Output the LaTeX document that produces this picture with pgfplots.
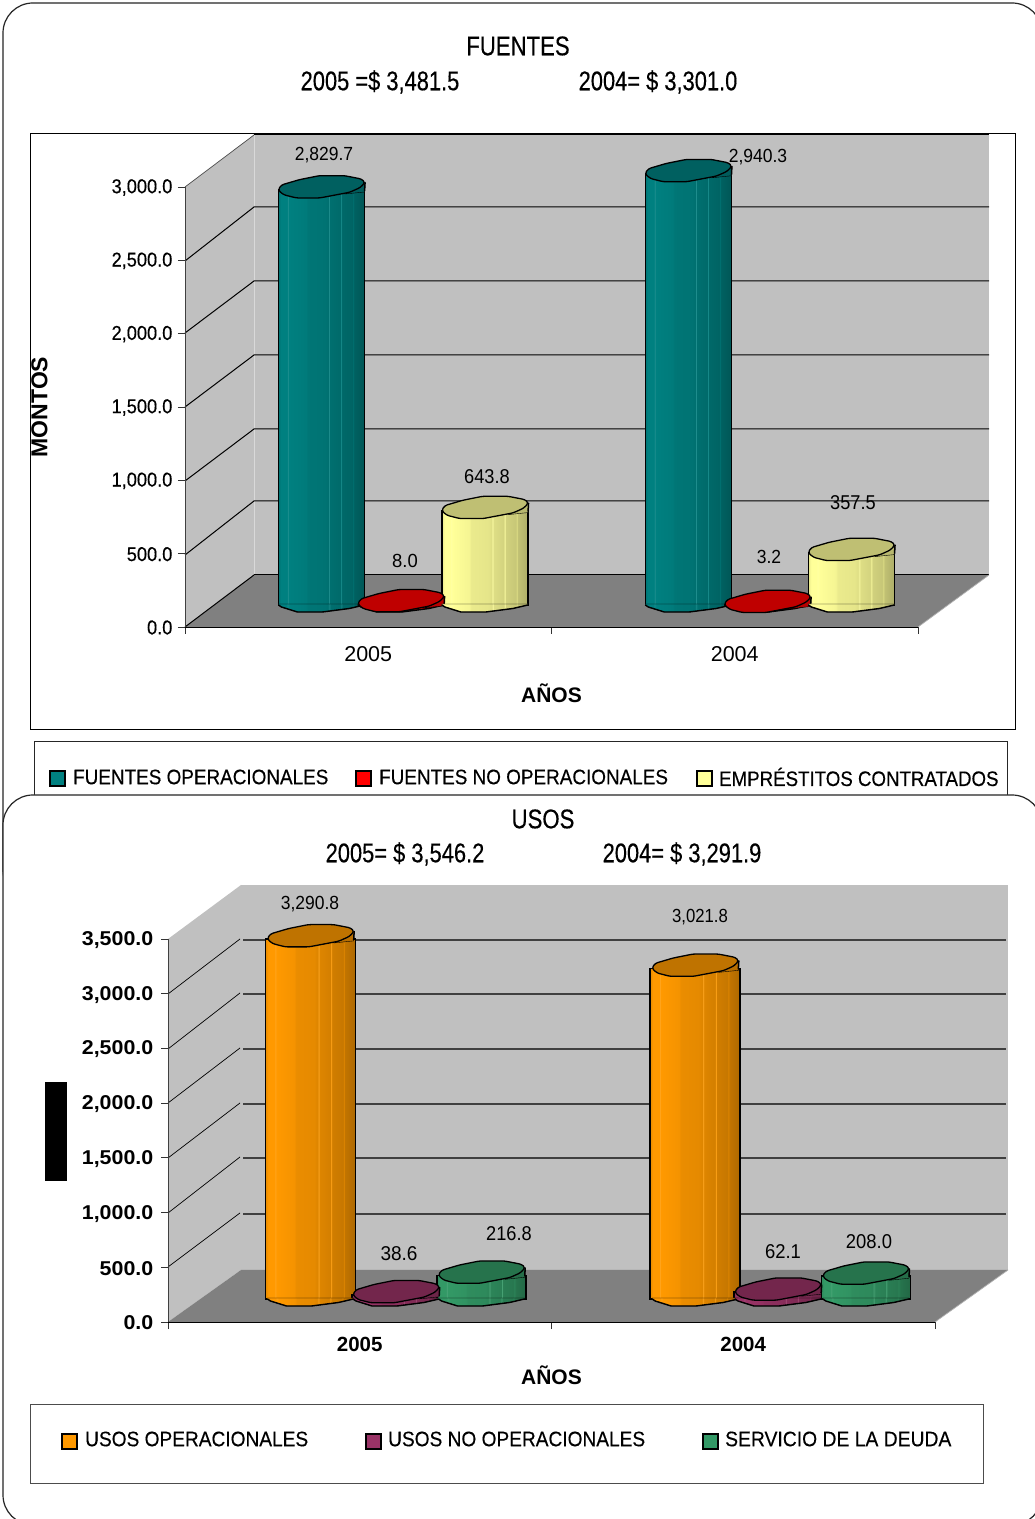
\documentclass[border=0pt]{standalone}
\usepackage{fontspec}
\setmainfont{Liberation Sans}
\newfontfamily\heavy[FakeBold=0.35]{Liberation Sans}
\usepackage{pgfplots}
\usepackage{pgfplotstable}
\pgfplotsset{compat=1.18}

\newcommand{\fs}[1]{\fontsize{#1}{#1}\selectfont}

\definecolor{wallgray}{HTML}{C0C0C0}
\definecolor{floorgray}{HTML}{808080}
\definecolor{cOper}{HTML}{008080}
\definecolor{cNoOper}{HTML}{FF0000}
\definecolor{cEmpr}{HTML}{FFFF99}
\definecolor{cUsos}{HTML}{FF9900}
\definecolor{cUsosNo}{HTML}{993366}
\definecolor{cDeuda}{HTML}{339966}

% Side shading of a cylinder, plus the cap marks that close it at both ends.
% #1 name, #2 colour, #3 horizontal scale of the caps
\newcommand{\defcyl}[3]{%
  \pgfdeclarehorizontalshading{body#1}{100bp}{%
    color(0bp)=(#2!90!black); color(25bp)=(#2!90!black);
    color(26.5bp)=(#2); color(30bp)=(#2);
    color(30.5bp)=(#2!88!white); color(31bp)=(#2);
    color(41bp)=(#2!96!black); color(42bp)=(#2!92!black);
    color(52bp)=(#2!90!black); color(54bp)=(#2!87!black);
    color(54.5bp)=(#2!87!white); color(55bp)=(#2!87!black);
    color(61bp)=(#2!83!black);
    color(61.5bp)=(#2!90!white); color(62bp)=(#2!82!black);
    color(68bp)=(#2!78!black);
    color(68.5bp)=(#2!88!black); color(69bp)=(#2!76!black);
    color(75bp)=(#2!68!black); color(100bp)=(#2!68!black)}%
  \pgfdeclareplotmark{top#1}{%
    \path[xscale=#3,fill=#2!72!black] (24pt,-4pt) -- (43.7pt,7.7pt) -- (43.2pt,-2pt) -- cycle;
    \draw[xscale=#3,line width=1.5pt,black] (43.2pt,-1pt) -- (43.7pt,7.7pt);
    \draw[xscale=#3,line width=1.3pt,black,fill=#2!75!black,line join=round,rounded corners=2.5pt]
      (-43.3pt,0pt) -- (-40pt,5pt) -- (-22pt,10.3pt) -- (-2pt,14.3pt) -- (23pt,14.3pt)
      -- (40pt,11pt) -- (43.7pt,7.7pt) -- (39pt,2.5pt) -- (28.3pt,-2.3pt) -- (-1.7pt,-8pt) -- (-25pt,-8pt)
      -- (-38pt,-4.7pt) -- cycle;}%
  \pgfdeclareplotmark{base#1}{%
    \path[xscale=#3,shade,shading=body#1,shading angle=0]
      (-43pt,1pt) -- (-43pt,0pt) -- (-40pt,-2pt) -- (-24pt,-7pt) -- (1pt,-7pt) -- (28pt,-3.5pt)
      -- (43pt,0pt) -- (43pt,1pt) -- cycle;
    \draw[xscale=#3,line width=1.4pt,black,line join=round]
      (-43pt,0pt) -- (-40pt,-2pt) -- (-24pt,-7pt) -- (1pt,-7pt) -- (28pt,-3.5pt) -- (43pt,0pt);}%
}
\defcyl{Oper}{cOper}{1}
\defcyl{NoOper}{cNoOper}{0.96}
\defcyl{Empr}{cEmpr}{1}
\defcyl{Usos}{cUsos}{1.04}
\defcyl{UsosNo}{cUsosNo}{1.03}
\defcyl{Deuda}{cDeuda}{1.03}

% One series of cylinders: each shaded side is its own plot, so that the
% shading spans one bar; then lower caps and upper caps.
% #1 name, #2 table, #3 width of the side
\newcommand{\cylinders}[3]{%
  \addplot[ybar,bar shift=0pt,bar width=#3,draw=black,line width=1.5pt,
           shade,shading=body#1,shading angle=0,
           skip coords between index={1}{2}] table[x=x,y=monto]{#2};
  \addplot[ybar,bar shift=0pt,bar width=#3,draw=black,line width=1.5pt,
           shade,shading=body#1,shading angle=0,
           skip coords between index={0}{1}] table[x=x,y=monto]{#2};
  \addplot[only marks,mark=base#1] table[x=x,y expr=0]{#2};
  \addplot[only marks,mark=top#1] table[x=x,y=monto]{#2};
}

\pgfplotstableread{
x monto
0.778 2829.7
1.779 2940.3
}\fuentesOper
\pgfplotstableread{
x monto
0.995 8.0
1.995 3.2
}\fuentesNoOper
\pgfplotstableread{
x monto
1.224 643.8
2.224 357.5
}\emprestitos
\pgfplotstableread{
x monto
0.777 3290.8
1.780 3021.8
}\usosOper
\pgfplotstableread{
x monto
1.000 38.6
1.996 62.1
}\usosNoOper
\pgfplotstableread{
x monto
1.223 216.8
2.225 208.0
}\servicioDeuda

\tikzset{
  px/.style={x=1pt,y=-1pt,yshift=1519pt},
  lab/.style={inner sep=0pt,text=black},
  swatch/.style={draw=black,line width=1.3pt},
}

\pgfplotsset{
  frontaxis/.style={
    scale only axis,clip=false,
    axis x line=bottom,axis y line=left,
    axis line style={-,line width=0.9pt},
    x axis line style={black},
    y axis line style={black!75},
    tick align=outside,
    major tick length=7pt,
    tick style={black!80,line width=0.8pt},
    xmin=0,xmax=2,ymin=0,
    xtick={0,1,2},xticklabels={},
    extra x ticks={0.5,1.5},extra x tick labels={2005,2004},
    extra x tick style={tick style={draw=none}},
    /pgf/number format/fixed,/pgf/number format/fixed zerofill,
    /pgf/number format/precision=1,/pgf/number format/1000 sep={,},
    /pgf/number format/assume math mode=true,
    yticklabel style={inner sep=0pt},
  },
  cylaxis/.style={
    scale only axis,clip=false,hide axis,
    xmin=0.5,xmax=2.5,ymin=0,
  },
}

\begin{document}
\begin{tikzpicture}
\useasboundingbox (0pt,0pt) rectangle (1035pt,1519pt);
\fill[white] (0pt,0pt) rectangle (1035pt,1519pt);

% ---------- upper panel: frame, box, walls ----------
\begin{scope}[px]
  \draw[line width=1.2pt,black!85,rounded corners=30pt] (3,3) rectangle (1042,900);
  \node[lab,font=\heavy\fs{27},xscale=0.82] at (518,46) {FUENTES};
  \node[lab,font=\heavy\fs{27},xscale=0.81] at (380,82) {2005 =\$ 3,481.5};
  \node[lab,font=\heavy\fs{27},xscale=0.81] at (658,82) {2004= \$ 3,301.0};
  \draw[line width=0.9pt,black] (30,133) rectangle (1015,729);
  \fill[wallgray] (254,135) rectangle (989,575);
  \fill[wallgray] (185,187) -- (254,135) -- (254,575) -- (185,627) -- cycle;
  \fill[floorgray] (185,627) -- (254,575) -- (989,575) -- (918,627) -- cycle;
  \draw[black!15,line width=0.6pt] (254,135) -- (254,575);
  \draw[black!70,line width=0.7pt] (185,187) -- (254,135);
  \foreach \f/\b in {261/207,333/281,407/355,481/429,555/501}{
    \draw[black,line width=1pt] (185,\f) -- (254,\b) -- (989,\b);
  }
  \draw[black,line width=1pt] (254,575) -- (989,575);
  \draw[black,line width=1pt] (185,627) -- (254,575);
  \draw[white!70!black,line width=0.7pt] (918,627) -- (989,575);
  \draw[black,line width=0.7pt] (254,134.5) -- (989,134.5);
\end{scope}

\begin{axis}[frontaxis,at={(185pt,892pt)},anchor=south west,
    width=733pt,height=440pt,ymax=3000,ytick={0,500,...,3000},
    tick label style={font=\heavy\fs{20}},
    yticklabel style={xscale=0.91,xshift=-6pt,yshift=-0.5pt},
    xticklabel style={font=\fs{21.5},yshift=-9pt},
    xlabel={AÑOS},
    xlabel style={font=\bfseries\fs{21},at={(axis description cs:0.5,-0.1500)},anchor=center,inner sep=0pt},
    ylabel={MONTOS},
    ylabel style={font=\bfseries\fs{23},at={(axis description cs:-0.1985,0.5)},anchor=center,rotate=0,inner sep=0pt},
  ]
\end{axis}

\begin{axis}[cylaxis,at={(219.5pt,914pt)},anchor=south west,width=733pt,height=440pt,ymax=3000]
  \cylinders{Oper}{\fuentesOper}{86pt}
  \cylinders{NoOper}{\fuentesNoOper}{83pt}
  \cylinders{Empr}{\emprestitos}{86pt}
\end{axis}

\begin{scope}[px]
  \node[lab,font=\fs{19},xscale=0.92] at (324,155) {2,829.7};
  \node[lab,font=\fs{19},xscale=0.92] at (758,157) {2,940.3};
  \node[lab,font=\fs{20},xscale=0.91] at (487,477) {643.8};
  \node[lab,font=\fs{19},xscale=0.97] at (405,561) {8.0};
  \node[lab,font=\fs{19},xscale=0.92] at (769,557) {3.2};
  \node[lab,font=\fs{20},xscale=0.91] at (853,503) {357.5};
  % key of the upper panel
  \draw[line width=0.9pt,black!85] (34,800) -- (34,741) -- (1007,741) -- (1007,800);
  \fill[cOper,swatch] (50,771) rectangle (65,786);
  \fill[cNoOper,swatch] (356,771) rectangle (371,786);
  \fill[cEmpr,swatch] (697,771) rectangle (712,786);
  \node[lab,anchor=west,font=\heavy\fs{21},xscale=0.90] at (73,777) {FUENTES OPERACIONALES};
  \node[lab,anchor=west,font=\heavy\fs{21},xscale=0.90] at (379,777) {FUENTES NO OPERACIONALES};
  \node[lab,anchor=west,font=\heavy\fs{21},xscale=0.89] at (719,777) {EMPRÉSTITOS CONTRATADOS};

  % ---------- lower panel: frame, walls ----------
  \draw[line width=1.2pt,black!85,fill=white,rounded corners=30pt] (3,795) rectangle (1042,1525);
  \node[lab,font=\heavy\fs{27},xscale=0.82] at (543,819) {USOS};
  \node[lab,font=\heavy\fs{27},xscale=0.81] at (405,854) {2005= \$ 3,546.2};
  \node[lab,font=\heavy\fs{27},xscale=0.81] at (682,854) {2004= \$ 3,291.9};
  \fill[wallgray] (241,885) rectangle (1008,1270);
  \fill[wallgray] (168,939) -- (241,885) -- (241,1270) -- (168,1322) -- cycle;
  \fill[floorgray] (168,1322) -- (241,1270) -- (1008,1270) -- (935,1322) -- cycle;
  \foreach \f/\b in {994/940,1049/994,1103/1049,1158/1104,1213/1158,1267/1214}{
    \draw[black,line width=0.7pt] (168,\f) -- (240,\b-1);
    \draw[black!75,line width=1.1pt] (243,\b) -- (1006,\b);
  }
  \draw[white!70!black,line width=0.7pt] (935,1322) -- (1008,1270);
  \fill[black] (45,1082) rectangle (67,1181);
\end{scope}

\begin{axis}[frontaxis,at={(168pt,197pt)},anchor=south west,
    width=767pt,height=383pt,ymax=3500,ytick={0,500,...,3500},
    tick label style={font=\bfseries\fs{20}},
    yticklabel style={xscale=1.07,xshift=-7pt,yshift=-1pt},
    xticklabel style={font=\bfseries\fs{20.5},yshift=-5pt},
    xlabel={AÑOS},
    xlabel style={font=\bfseries\fs{21},at={(axis description cs:0.5,-0.1385)},anchor=center,inner sep=0pt},
  ]
\end{axis}

\begin{axis}[cylaxis,at={(204.25pt,220pt)},anchor=south west,width=767pt,height=383pt,ymax=3500]
  \cylinders{Usos}{\usosOper}{90pt}
  \cylinders{UsosNo}{\usosNoOper}{88pt}
  \cylinders{Deuda}{\servicioDeuda}{89pt}
\end{axis}

\begin{scope}[px]
  \node[lab,font=\fs{19},xscale=0.92] at (310,904) {3,290.8};
  \node[lab,font=\fs{19},xscale=0.88] at (700,917) {3,021.8};
  \node[lab,font=\fs{20},xscale=0.95] at (399,1254) {38.6};
  \node[lab,font=\fs{20},xscale=0.91] at (509,1234) {216.8};
  \node[lab,font=\fs{20},xscale=0.92] at (783,1252) {62.1};
  \node[lab,font=\fs{20},xscale=0.92] at (869,1242) {208.0};
  % key of the lower panel
  \draw[line width=0.9pt,black!70] (30,1404) rectangle (983,1483);
  \fill[cUsos,swatch] (62,1434) rectangle (77,1449);
  \fill[cUsosNo,swatch] (366,1434) rectangle (381,1449);
  \fill[cDeuda,swatch] (703,1434) rectangle (718,1449);
  \node[lab,anchor=west,font=\heavy\fs{21},xscale=0.91] at (85,1439) {USOS OPERACIONALES};
  \node[lab,anchor=west,font=\heavy\fs{21},xscale=0.91] at (388,1439) {USOS NO OPERACIONALES};
  \node[lab,anchor=west,font=\heavy\fs{21},xscale=0.92] at (725,1439) {SERVICIO DE LA DEUDA};
\end{scope}
\end{tikzpicture}
\end{document}
